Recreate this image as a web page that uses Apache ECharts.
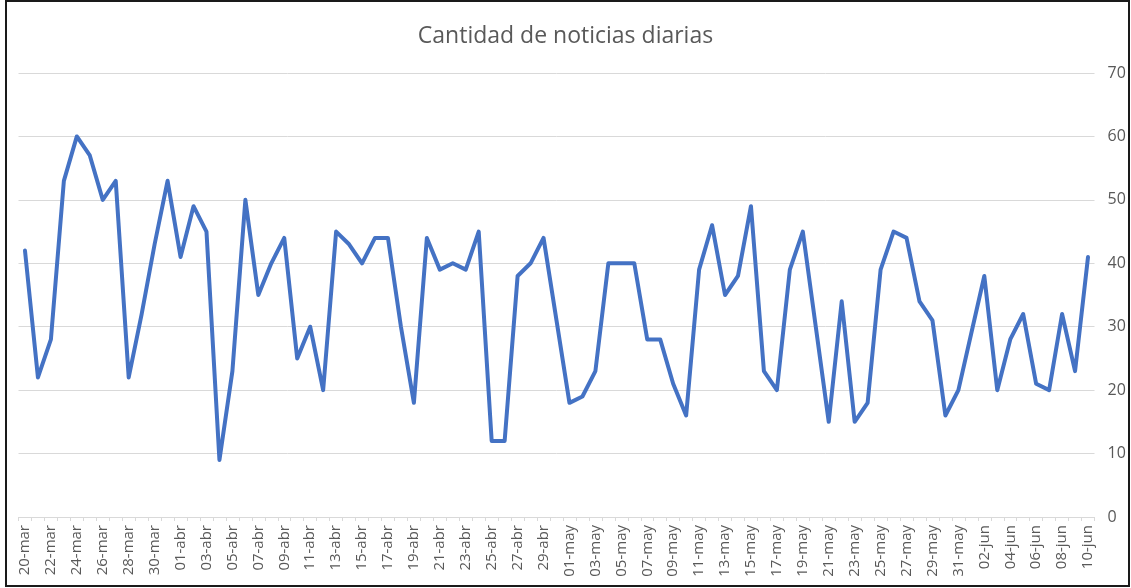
<!DOCTYPE html>
<html>
<head>
<meta charset="utf-8">
<script src="https://cdn.jsdelivr.net/npm/echarts@6/dist/echarts.min.js"></script>
<style>
html,body{margin:0;padding:0;background:#fff;}
#chart{width:1131px;height:588px;}
</style>
</head>
<body>
<div id="chart"></div>
<script>
const titleText = "Cantidad de noticias diarias";
const dates = [
 "20-mar","21-mar","22-mar","23-mar","24-mar","25-mar","26-mar","27-mar","28-mar","29-mar","30-mar","31-mar",
 "01-abr","02-abr","03-abr","04-abr","05-abr","06-abr","07-abr","08-abr","09-abr","10-abr",
 "11-abr","12-abr","13-abr","14-abr","15-abr","16-abr","17-abr","18-abr","19-abr","20-abr",
 "21-abr","22-abr","23-abr","24-abr","25-abr","26-abr","27-abr","28-abr","29-abr","30-abr",
 "01-may","02-may","03-may","04-may","05-may","06-may","07-may","08-may","09-may","10-may",
 "11-may","12-may","13-may","14-may","15-may","16-may","17-may","18-may","19-may","20-may",
 "21-may","22-may","23-may","24-may","25-may","26-may","27-may","28-may","29-may","30-may","31-may",
 "01-jun","02-jun","03-jun","04-jun","05-jun","06-jun","07-jun","08-jun","09-jun","10-jun"
];
const noticias = [
 42,22,28,53,60,57,50,53,22,32,43,53,
 41,49,45,9,23,50,35,40,44,25,
 30,20,45,43,40,44,44,30,18,44,
 39,40,39,45,12,12,38,40,44,31,
 18,19,23,40,40,40,28,28,21,16,
 39,46,35,38,49,23,20,39,45,30,
 15,34,15,18,39,45,44,34,31,16,20,
 29,38,20,28,32,21,20,32,23,41
];
const yMin = 0, yMax = 70, yStep = 10;

const chart = echarts.init(document.getElementById('chart'), null, {renderer: 'canvas'});
chart.setOption({
  backgroundColor: '#ffffff',
  animation: false,
  title: {
    text: titleText,
    left: 'center',
    top: 20,
    textStyle: {fontFamily: 'Open Sans', fontSize: 23, fontWeight: 'normal', color: '#595959'}
  },
  graphic: [{
    type: 'rect',
    shape: {x: 6, y: 1, width: 1123, height: 585},
    style: {fill: 'none', stroke: '#1a1a1a', lineWidth: 2},
    silent: true
  }],
  grid: {left: 18.5, right: 36.5, top: 73, bottom: 71},
  xAxis: {
    type: 'category',
    data: dates,
    boundaryGap: true,
    axisLine: {show: true, lineStyle: {color: '#d9d9d9', width: 1}},
    axisTick: {show: true, interval: 0, length: 4, lineStyle: {color: '#d9d9d9'}},
    axisLabel: {
      interval: 1, rotate: 90, margin: 8,
      fontFamily: 'Open Sans', fontSize: 15, color: '#595959'
    },
    splitLine: {show: false}
  },
  yAxis: {
    type: 'value',
    position: 'right',
    min: yMin, max: yMax, interval: yStep,
    axisLine: {show: false},
    axisTick: {show: false},
    axisLabel: {margin: 13, fontFamily: 'Open Sans', fontSize: 16, color: '#595959'},
    splitLine: {show: true, lineStyle: {color: '#d9d9d9', width: 1}}
  },
  series: [{
    type: 'line',
    data: noticias,
    showSymbol: false,
    symbol: 'none',
    lineStyle: {color: '#4472C4', width: 4, join: 'round', cap: 'round'},
    itemStyle: {color: '#4472C4'}
  }]
});
</script>
</body>
</html>
